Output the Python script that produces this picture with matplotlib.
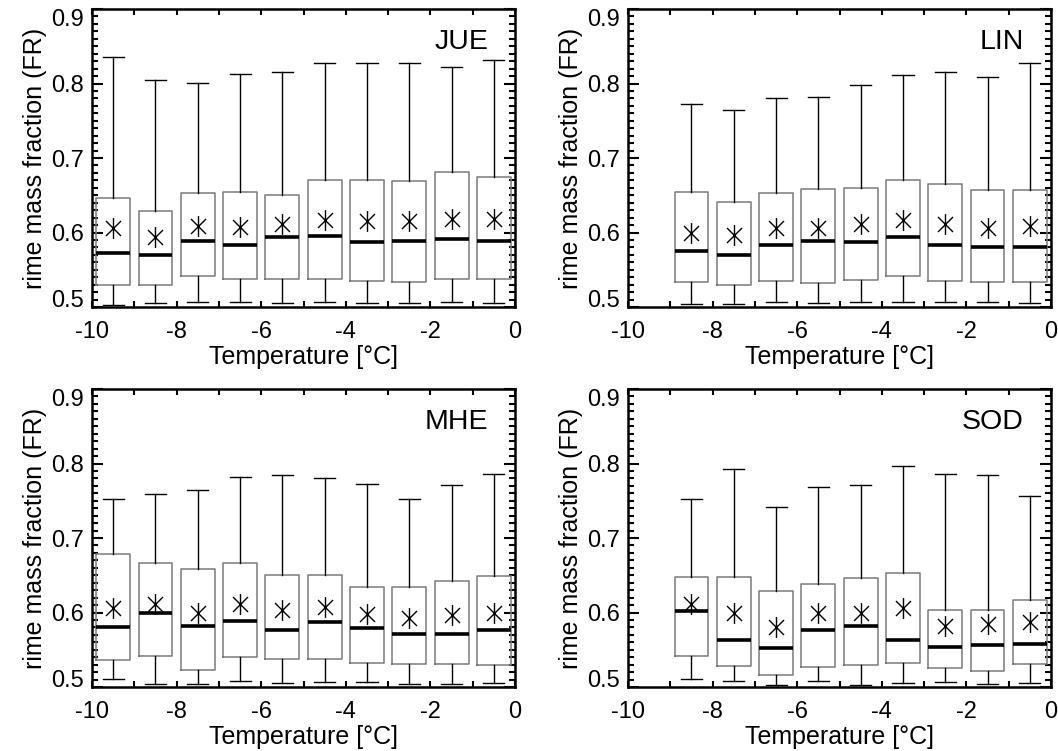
import matplotlib
matplotlib.use("Agg")
import matplotlib.pyplot as plt
from matplotlib.path import Path

plt.rcParams['font.family'] = ['Liberation Sans', 'DejaVu Sans']
plt.rcParams['axes.unicode_minus'] = False

# temperature bin centres [deg C]
temps_jue = [-9.5, -8.5, -7.5, -6.5, -5.5, -4.5, -3.5, -2.5, -1.5, -0.5]
temps_lin = [-8.5, -7.5, -6.5, -5.5, -4.5, -3.5, -2.5, -1.5, -0.5]
temps_mhe = [-9.5, -8.5, -7.5, -6.5, -5.5, -4.5, -3.5, -2.5, -1.5, -0.5]
temps_sod = [-8.5, -7.5, -6.5, -5.5, -4.5, -3.5, -2.5, -1.5, -0.5]

# JUE
jue_whishi = [0.836, 0.805, 0.801, 0.813, 0.816, 0.827, 0.827, 0.828, 0.822, 0.832]
jue_q3 = [0.646, 0.629, 0.653, 0.654, 0.650, 0.671, 0.670, 0.669, 0.681, 0.675]
jue_mean = [0.606, 0.594, 0.609, 0.608, 0.611, 0.617, 0.616, 0.615, 0.618, 0.618]
jue_med = [0.572, 0.570, 0.588, 0.583, 0.594, 0.595, 0.587, 0.588, 0.591, 0.588]
jue_q1 = [0.529, 0.529, 0.542, 0.538, 0.538, 0.537, 0.535, 0.534, 0.537, 0.538]
jue_whislo = [0.503, 0.505, 0.507, 0.507, 0.505, 0.507, 0.505, 0.505, 0.507, 0.505]

# LIN
lin_whishi = [0.773, 0.765, 0.781, 0.782, 0.798, 0.812, 0.816, 0.809, 0.827]
lin_q3 = [0.654, 0.641, 0.653, 0.659, 0.660, 0.671, 0.665, 0.657, 0.657]
lin_mean = [0.600, 0.596, 0.606, 0.606, 0.611, 0.617, 0.611, 0.606, 0.609]
lin_med = [0.575, 0.570, 0.583, 0.589, 0.587, 0.594, 0.583, 0.580, 0.580]
lin_q1 = [0.533, 0.529, 0.535, 0.532, 0.536, 0.542, 0.535, 0.533, 0.533]
lin_whislo = [0.504, 0.504, 0.507, 0.505, 0.507, 0.507, 0.507, 0.507, 0.505]

# MHE
mhe_whishi = [0.753, 0.759, 0.765, 0.782, 0.785, 0.781, 0.773, 0.752, 0.771, 0.786]
mhe_q3 = [0.679, 0.667, 0.659, 0.667, 0.651, 0.651, 0.634, 0.634, 0.642, 0.649]
mhe_mean = [0.606, 0.611, 0.599, 0.612, 0.604, 0.608, 0.598, 0.592, 0.597, 0.600]
mhe_med = [0.580, 0.599, 0.582, 0.589, 0.576, 0.587, 0.579, 0.571, 0.571, 0.576]
mhe_q1 = [0.536, 0.542, 0.523, 0.540, 0.538, 0.537, 0.532, 0.531, 0.531, 0.529]
mhe_whislo = [0.511, 0.504, 0.504, 0.508, 0.505, 0.507, 0.507, 0.504, 0.504, 0.505]

# SOD
sod_whishi = [0.752, 0.792, 0.741, 0.769, 0.771, 0.797, 0.786, 0.784, 0.757]
sod_q3 = [0.648, 0.648, 0.629, 0.638, 0.646, 0.653, 0.604, 0.603, 0.617]
sod_mean = [0.612, 0.600, 0.580, 0.599, 0.600, 0.606, 0.582, 0.584, 0.587]
sod_med = [0.602, 0.563, 0.553, 0.577, 0.582, 0.563, 0.554, 0.556, 0.558]
sod_q1 = [0.541, 0.528, 0.516, 0.527, 0.529, 0.532, 0.525, 0.522, 0.531]
sod_whislo = [0.511, 0.508, 0.503, 0.508, 0.503, 0.505, 0.507, 0.504, 0.505]

# IDL style asterisk: vertical bar plus an X
star = Path([(0, -1), (0, 1), (-0.72, -0.72), (0.72, 0.72), (-0.72, 0.72), (0.72, -0.72)],
            [Path.MOVETO, Path.LINETO, Path.MOVETO, Path.LINETO, Path.MOVETO, Path.LINETO])


def draw_panel(ax, name, pos, lo, q1, med, q3, hi, mean):
    stats = []
    for i in range(len(pos)):
        stats.append(dict(whislo=lo[i], q1=q1[i], med=med[i], q3=q3[i],
                          whishi=hi[i], mean=mean[i]))
    ax.bxp(stats, positions=pos, widths=0.8, capwidths=0.5, showmeans=True,
           showfliers=False, manage_ticks=False,
           boxprops=dict(color='#7a7a7a', lw=1.1),
           whiskerprops=dict(color='black', lw=1.0),
           capprops=dict(color='black', lw=1.0),
           medianprops=dict(color='black', lw=2.6, solid_capstyle='butt'),
           meanprops=dict(marker=star, markersize=15, markeredgecolor='black',
                          markerfacecolor='none', markeredgewidth=1.0))

    ax.set_xlim(-10, 0)
    ax.set_ylim(0.5, 0.9)
    ax.set_xticks(range(-10, 1, 2))
    ax.set_xticks(range(-10, 1), minor=True)
    ax.set_yticks([0.5, 0.6, 0.7, 0.8, 0.9])
    ax.set_yticks([0.5 + 0.01 * k for k in range(41)], minor=True)
    ax.set_yticklabels(['0.5', '0.6', '0.7', '0.8', '0.9'])
    ax.tick_params(which='both', direction='in', top=True, right=True,
                   width=1.5, labelsize=17)
    ax.tick_params(axis='x', which='both', length=4.5, pad=10)
    ax.tick_params(axis='y', which='major', length=8, pad=6)
    ax.tick_params(axis='y', which='minor', length=4)
    ticks = ax.yaxis.get_major_ticks()
    ticks[0].label1.set_verticalalignment('baseline')
    ticks[-1].label1.set_verticalalignment('top')
    for s in ax.spines.values():
        s.set_linewidth(1.8)

    ax.set_xlabel('Temperature [°C]', fontsize=18)
    ax.set_ylabel('rime mass fraction (FR)', fontsize=18)
    ax.xaxis.set_label_coords(0.5, -0.129)
    ax.yaxis.set_label_coords(-0.106, 0.5)
    ax.text(0.936, 0.888, name, transform=ax.transAxes, ha='right', va='center',
            fontsize=20.5)


fig = plt.figure(figsize=(10.58, 7.51), dpi=100)
w, h = 0.3998, 0.3968
ax1 = fig.add_axes([0.0870, 0.5912, w, h])
ax2 = fig.add_axes([0.5936, 0.5912, w, h])
ax3 = fig.add_axes([0.0870, 0.0852, w, h])
ax4 = fig.add_axes([0.5936, 0.0852, w, h])

draw_panel(ax1, 'JUE', temps_jue, jue_whislo, jue_q1, jue_med, jue_q3, jue_whishi, jue_mean)
draw_panel(ax2, 'LIN', temps_lin, lin_whislo, lin_q1, lin_med, lin_q3, lin_whishi, lin_mean)
draw_panel(ax3, 'MHE', temps_mhe, mhe_whislo, mhe_q1, mhe_med, mhe_q3, mhe_whishi, mhe_mean)
draw_panel(ax4, 'SOD', temps_sod, sod_whislo, sod_q1, sod_med, sod_q3, sod_whishi, sod_mean)

fig.savefig('out.png', dpi=100)
